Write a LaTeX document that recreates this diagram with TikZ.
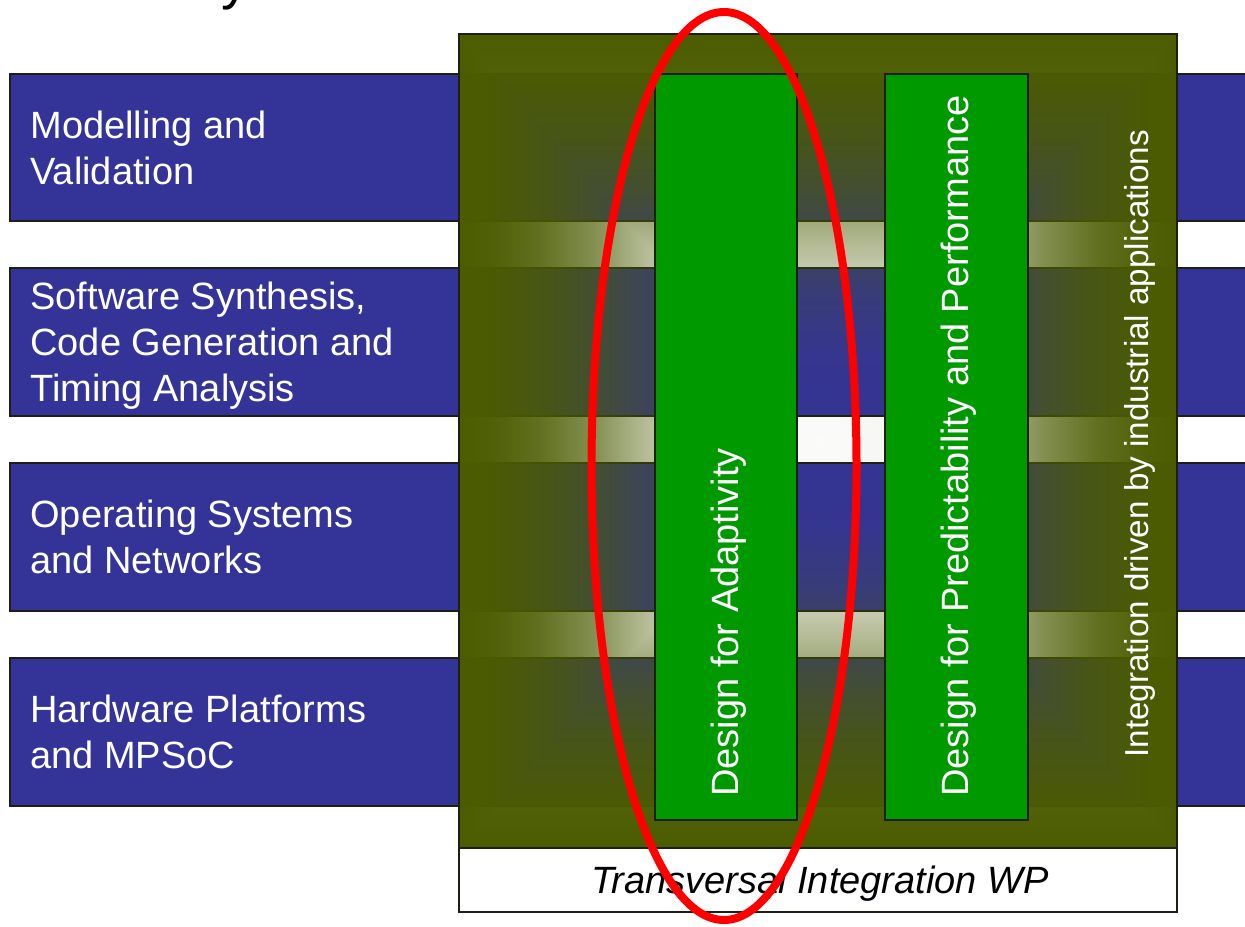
\documentclass[tikz,border=0pt]{standalone}
\usepackage{fontspec}
\setmainfont{Liberation Sans}
\usetikzlibrary{fadings}

\definecolor{barblue}{RGB}{52,52,152}
\definecolor{olivebox}{RGB}{75,92,0}
\definecolor{colgreen}{RGB}{0,153,0}
\definecolor{ringred}{RGB}{255,0,0}
\definecolor{edgegray}{RGB}{30,30,20}

% opacity profile of the olive frame: opaque at the rim, clear in the middle
\pgfdeclarehorizontalshading{glowh}{100bp}{%
  color(0bp)=(white); color(25bp)=(white);
  color(27.5bp)=(white!97!black); color(30.75bp)=(white!87!black);
  color(34.5bp)=(white!68!black); color(37.5bp)=(white!45!black);
  color(41.25bp)=(white!20!black); color(45bp)=(white!5!black);
  color(50bp)=(white!2!black);
  color(55bp)=(white!5!black); color(58.75bp)=(white!20!black);
  color(62.5bp)=(white!45!black); color(65.5bp)=(white!68!black);
  color(69.25bp)=(white!87!black); color(72.5bp)=(white!97!black);
  color(75bp)=(white); color(100bp)=(white)}
\pgfdeclareverticalshading{glowv}{100bp}{%
  color(0bp)=(white); color(25bp)=(white);
  color(27.5bp)=(white!97!black); color(30.75bp)=(white!87!black);
  color(34.5bp)=(white!68!black); color(37.5bp)=(white!45!black);
  color(41.25bp)=(white!20!black); color(45bp)=(white!5!black);
  color(50bp)=(white!2!black);
  color(55bp)=(white!5!black); color(58.75bp)=(white!20!black);
  color(62.5bp)=(white!45!black); color(65.5bp)=(white!68!black);
  color(69.25bp)=(white!87!black); color(72.5bp)=(white!97!black);
  color(75bp)=(white); color(100bp)=(white)}

% rectangular glow: horizontal profile, vertical profile in the top and bottom wedges;
% the filled path maps onto the central 50bp square
\begin{tikzfadingfrompicture}[name=rectglow]
  \fill[white] (-50bp,-50bp) rectangle (50bp,50bp);
  \shade[shading=glowh] (-25bp,-25bp) rectangle (25bp,25bp);
  \begin{scope}
    \clip (-25bp,25bp) -- (0bp,0bp) -- (25bp,25bp) -- cycle;
    \shade[shading=glowv] (-25bp,-25bp) rectangle (25bp,25bp);
  \end{scope}
  \begin{scope}
    \clip (-25bp,-25bp) -- (0bp,0bp) -- (25bp,-25bp) -- cycle;
    \shade[shading=glowv] (-25bp,-25bp) rectangle (25bp,25bp);
  \end{scope}
\end{tikzfadingfrompicture}

\tikzset{
  layerbar/.style={fill=barblue, draw=edgegray, line width=0.6pt},
  wpcolumn/.style={fill=colgreen, draw=edgegray, line width=0.6pt},
  bartext/.style={anchor=west, inner sep=0pt, align=left, text=white,
    text depth=0pt, font=\fontsize{19}{23}\selectfont},
  coltext/.style={rotate=90, anchor=base west, inner sep=0pt, text=white,
    font=\fontsize{19}{23}\selectfont},
  sidetext/.style={rotate=90, anchor=base west, inner sep=0pt, text=white,
    font=\fontsize{16.6}{20}\selectfont},
  wplabel/.style={anchor=base, inner sep=0pt, text=black,
    font=\itshape\fontsize{19}{23}\selectfont},
  ring/.style={draw=ringred, line width=4pt}
}

\begin{document}
\begin{tikzpicture}[x=0.5pt,y=-0.5pt]
  \useasboundingbox (0,0) rectangle (1245,926);
  \fill[white] (0,0) rectangle (1245,926);

  \begin{scope}
    \clip (0,0) rectangle (1245,926);
    % tail of the heading above
    \node[anchor=base west, inner sep=0pt, font=\fontsize{28}{30}\selectfont] (headtail) at (221,-2) {y};

    % horizontal layers
    \draw[layerbar] (10,74) rectangle (1265,221);
    \draw[layerbar] (10,268) rectangle (1265,416);
    \draw[layerbar] (10,463) rectangle (1265,611);
    \draw[layerbar] (10,658) rectangle (1265,806);
  \end{scope}

  % transversal integration frame
  \fill[olivebox, path fading=rectglow] (459,34) rectangle (1177,848);
  \draw[edgegray, line width=0.6pt] (459,34) rectangle (1177,848);

  % vertical work packages
  \draw[wpcolumn] (655,74) rectangle (797,820);
  \draw[wpcolumn] (885,74) rectangle (1028,820);

  % label strip
  \draw[fill=white, draw=edgegray, line width=0.6pt] (459,848) rectangle (1177,912);

  % layer names
  \node[bartext] (l1) at (30,147.5) {Modelling and\\Validation};
  \node[bartext] (l2) at (30,342) {Software Synthesis,\\Code Generation and\\Timing Analysis};
  \node[bartext] (l3) at (30,537) {Operating Systems\\and Networks};
  \node[bartext] (l4) at (30,732) {Hardware Platforms\\and MPSoC};

  % column names
  \node[coltext] (adapt) at (738,797) {Design for Adaptivity};
  \node[coltext] (pred) at (968,797) {Design for Predictability and Performance};
  \node[sidetext] (integ) at (1148,758) {Integration driven by industrial applications};
  \node[wplabel] (twp) at (820,893) {Transversal Integration WP};

  % highlight ring
  \draw[ring] (724,466) ellipse [x radius=132.5, y radius=454];
\end{tikzpicture}
\end{document}
